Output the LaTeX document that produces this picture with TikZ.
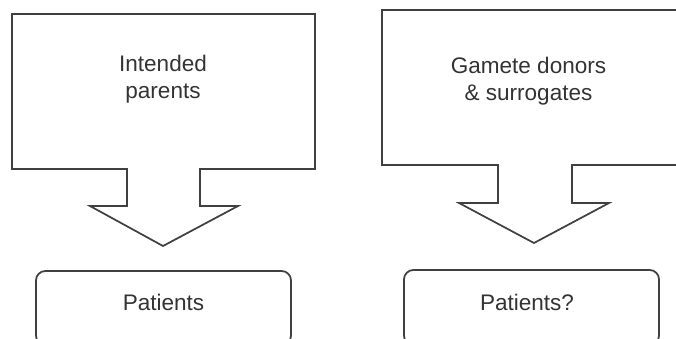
\documentclass[tikz,border=0pt]{standalone}
\usepackage{fontspec}
\setmainfont{Liberation Sans}
\usetikzlibrary{positioning}

\begin{document}
\begin{tikzpicture}[x=0.75pt, y=-0.75pt, line width=1.3pt,
  every node/.style={font=\fontsize{16.9}{20.6}\selectfont, text=black!80, align=center},
  callout/.style={draw=black!75, line join=miter},
  patbox/.style={draw=black!75, rounded corners=7pt}]
\useasboundingbox (0,0) rectangle (676,339);
\clip (0,0) rectangle (676,339);
% left column
\draw[callout] (12,14) -- (315,14) -- (315,169) -- (200,169) -- (200,206) -- (238,206)
  -- (163,246) -- (90,206) -- (127,206) -- (127,169) -- (12,169) -- cycle;
\node (IP) at (163,79) {Intended\\parents};
\draw[patbox] (36,271) rectangle (291,345);
\node (P1) at (163.5,302) {Patients};
% right column
\draw[callout] (382,10) -- (690,10) -- (690,165) -- (572,165) -- (572,203) -- (609,203)
  -- (534,243) -- (459,203) -- (498,203) -- (498,165) -- (382,165) -- cycle;
\node (GD) at (528.5,81) {Gamete donors\\\& surrogates};
\draw[patbox] (404,270) rectangle (659,345);
\node (P2) at (527,302) {Patients?};
\end{tikzpicture}
\end{document}
